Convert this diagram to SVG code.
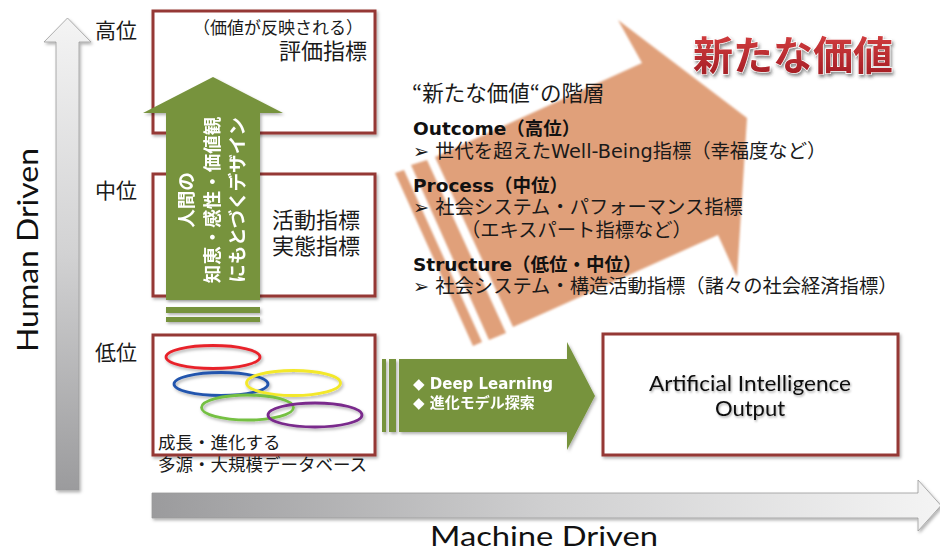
<svg xmlns="http://www.w3.org/2000/svg" width="940" height="553" viewBox="0 0 940 553">
<defs>
  <linearGradient id="gV" x1="0" y1="0" x2="0" y2="1">
    <stop offset="0" stop-color="#f4f4f4"/>
    <stop offset="0.5" stop-color="#d2d2d3"/>
    <stop offset="1" stop-color="#9b9b9d"/>
  </linearGradient>
  <linearGradient id="gH" x1="0" y1="0" x2="1" y2="0">
    <stop offset="0" stop-color="#9b9b9d"/>
    <stop offset="0.5" stop-color="#cfcfd0"/>
    <stop offset="1" stop-color="#f4f4f4"/>
  </linearGradient>
  <linearGradient id="gRed" x1="0" y1="0" x2="0" y2="1">
    <stop offset="0" stop-color="#dc4444"/>
    <stop offset="1" stop-color="#9e1a22"/>
  </linearGradient>
  <filter id="sh" x="-10%" y="-10%" width="130%" height="130%">
    <feDropShadow dx="1.5" dy="2" stdDeviation="1.5" flood-color="#000" flood-opacity="0.3"/>
  </filter>
  <filter id="tsh" x="-10%" y="-20%" width="130%" height="160%">
    <feDropShadow dx="1" dy="1.5" stdDeviation="1" flood-color="#000" flood-opacity="0.35"/>
  </filter>
  <filter id="soft" x="-10%" y="-10%" width="120%" height="120%">
    <feGaussianBlur stdDeviation="1.2"/>
  </filter>
  <filter id="big" x="-10%" y="-20%" width="130%" height="160%">
    <feDropShadow dx="1.5" dy="2.5" stdDeviation="1.8" flood-color="#333" flood-opacity="0.55"/>
  </filter>
</defs>
<style>
  .box { fill: #ffffff; stroke: #953735; stroke-width: 3; }
  .jp { font-family: "Noto Sans CJK JP", sans-serif; fill: #1a1a1a; }
  .mix { font-family: "DejaVu Sans", "Noto Sans CJK JP", sans-serif; fill: #1a1a1a; }
  .hd { font-family: "DejaVu Sans", "Noto Sans CJK JP", sans-serif; font-weight: bold; fill: #111; font-size: 18.5px; }
  .axis { font-family: "Lato", "Liberation Sans", sans-serif; fill: #111; }
  .grn { fill: #77933c; }
  .wt { font-family: "DejaVu Sans", "Noto Sans CJK JP", sans-serif; font-weight: bold; fill: #ffffff; }
  .ell { fill: none; stroke-width: 2.8; }
</style>

<!-- axes -->
<g id="axis-human">
  <path d="M56,490 L56,42 L44,42 L67.5,18 L91,42 L79,42 L79,490 Z" fill="url(#gV)" stroke="#9a9a9a" stroke-width="0.8" filter="url(#sh)"/>
  <text class="axis" font-size="28" transform="translate(38,250) rotate(-90)" text-anchor="middle" textLength="204" lengthAdjust="spacingAndGlyphs">Human Driven</text>
</g>
<g id="axis-machine">
  <path d="M152,493 L918,493 L918,480 L941,505.5 L918,531 L918,518 L152,518 Z" fill="url(#gH)" stroke="#9a9a9a" stroke-width="0.8" filter="url(#sh)"/>
  <text class="axis" font-size="27" x="544" y="546" text-anchor="middle" textLength="228" lengthAdjust="spacingAndGlyphs">Machine Driven</text>
</g>

<!-- level labels -->
<g id="levels" class="jp" font-size="21">
  <text x="95" y="38">高位</text>
  <text x="95" y="198">中位</text>
  <text x="95" y="360">低位</text>
</g>

<!-- orange big arrow -->
<g id="new-value-arrow" fill="#e0a07a" filter="url(#soft)">
  <polygon points="435,157 642,63 618,20 747,118 737,277 718,235 513,327"/>
  <polygon points="411,165 427,160 506,333 489,340"/>
  <polygon points="395,173 404,170 482,342 473,346"/>
</g>

<g id="title-new-value">
  <text x="693" y="70" font-family="Noto Sans CJK JP, sans-serif" font-weight="bold" font-size="40" fill="url(#gRed)" stroke="#ffffff" stroke-width="1.2" paint-order="stroke" filter="url(#big)" textLength="200" lengthAdjust="spacingAndGlyphs">新たな価値</text>
</g>

<g id="hierarchy-text">
  <text class="jp" x="412" y="101" font-size="21.5">“新たな価値“の階層</text>
  <text class="hd" x="413" y="135">Outcome（高位）</text>
  <text class="mix" x="413" y="158" font-size="19.3">➢ 世代を超えたWell-Being指標（幸福度など）</text>
  <text class="hd" x="413" y="192">Process（中位）</text>
  <text class="mix" x="413" y="214" font-size="19.3">➢ 社会システム・パフォーマンス指標</text>
  <text class="mix" x="461" y="237" font-size="19.3">（エキスパート指標など）</text>
  <text class="hd" x="413" y="271">Structure（低位・中位）</text>
  <text class="mix" x="413" y="293" font-size="19.3">➢ 社会システム・構造活動指標（諸々の社会経済指標）</text>
</g>

<!-- boxes -->
<g id="box-high">
  <rect class="box" x="153" y="11" width="222" height="122" filter="url(#sh)"/>
  <text class="jp" x="193" y="34" font-size="17">（価値が反映される）</text>
  <text class="jp" x="367" y="59" font-size="22" text-anchor="end">評価指標</text>
</g>
<g id="box-mid">
  <rect class="box" x="153" y="174" width="222" height="122" filter="url(#sh)"/>
  <text class="jp" x="272" y="228" font-size="22">活動指標</text>
  <text class="jp" x="272" y="254" font-size="22">実態指標</text>
</g>
<g id="box-low">
  <rect class="box" x="153" y="335" width="222" height="120" filter="url(#sh)"/>
  <g filter="url(#sh)">
    <ellipse class="ell" cx="213" cy="357" rx="47" ry="11.5" stroke="#e8232a"/>
    <ellipse class="ell" cx="221" cy="384" rx="47" ry="11.5" stroke="#2354ad"/>
    <ellipse class="ell" cx="293.5" cy="383" rx="47" ry="12.5" stroke="#f3e82a"/>
    <ellipse class="ell" cx="247.5" cy="407.5" rx="46" ry="12.5" stroke="#74c043"/>
    <ellipse class="ell" cx="315" cy="415" rx="47" ry="12" stroke="#7a2b8c"/>
  </g>
  <text class="jp" x="158" y="449" font-size="17.5">成長・進化する</text>
  <text class="jp" x="158" y="471" font-size="17.5">多源・大規模データベース</text>
</g>
<g id="box-ai">
  <rect class="box" x="603" y="334" width="295" height="121" filter="url(#sh)"/>
  <text class="axis" x="750" y="391" font-size="22" text-anchor="middle" filter="url(#tsh)" textLength="202" lengthAdjust="spacingAndGlyphs">Artificial Intelligence</text>
  <text class="axis" x="750" y="416" font-size="22" text-anchor="middle" filter="url(#tsh)">Output</text>
</g>

<!-- connectors -->
<g id="connectors">
  <g id="arrow-human-design" filter="url(#sh)">
    <path class="grn" d="M166,300 L166,113 L143,113 L213,77 L283,113 L260,113 L260,300 Z"/>
    <rect class="grn" x="166" y="307" width="94" height="6"/>
    <rect class="grn" x="166" y="317" width="94" height="5"/>
    <g class="wt" font-size="18.5">
      <text transform="translate(193,200) rotate(-90)" text-anchor="middle">人間の</text>
      <text transform="translate(219,200) rotate(-90)" text-anchor="middle">知恵・感性・価値観</text>
      <text transform="translate(244,200) rotate(-90)" text-anchor="middle">にもとづくデザイン</text>
    </g>
  </g>
  <g id="arrow-deep-learning" filter="url(#sh)">
    <rect class="grn" x="382" y="359" width="4" height="73"/>
    <rect class="grn" x="389" y="359" width="7" height="73"/>
    <path class="grn" d="M399,359 L567,359 L567,342 L595,396 L567,450 L567,432 L399,432 Z"/>
    <text class="wt" x="413" y="389" font-size="15">◆ Deep Learning</text>
    <text class="wt" x="413" y="408" font-size="15">◆ 進化モデル探索</text>
  </g>
</g>
</svg>
